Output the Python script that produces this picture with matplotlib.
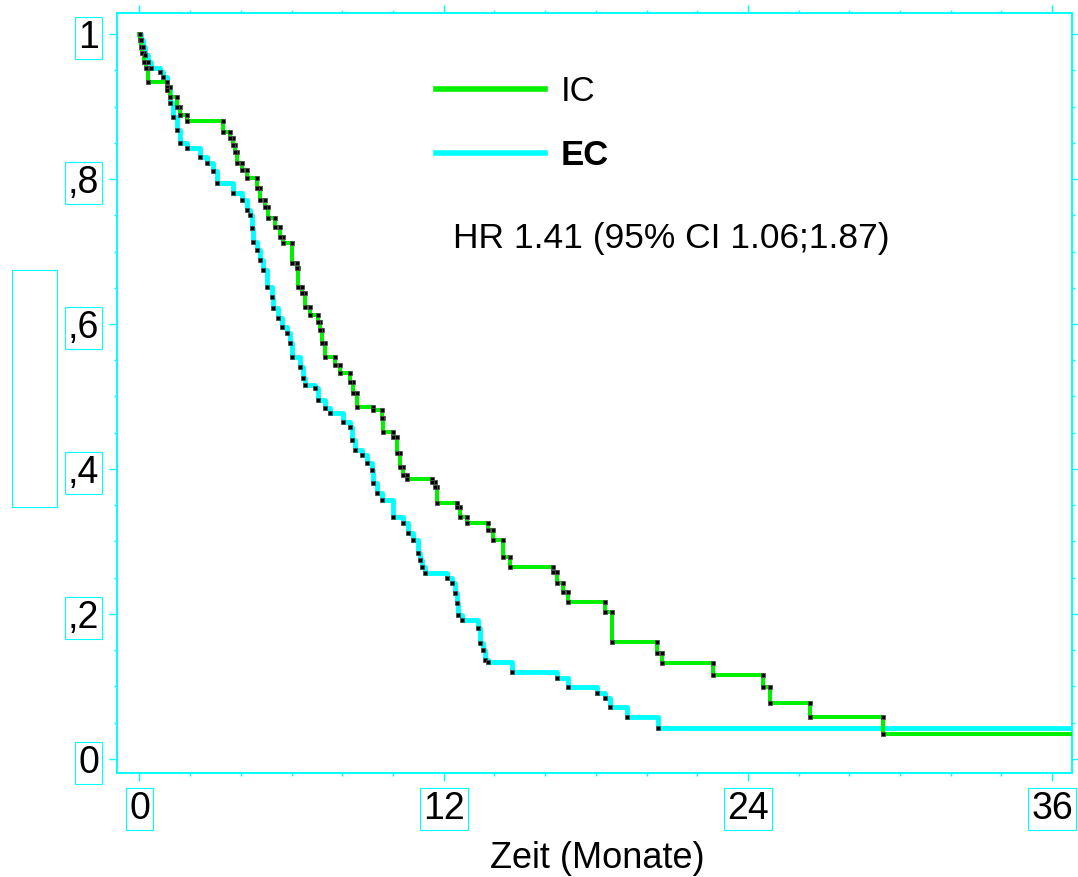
import numpy as np
import matplotlib
matplotlib.use('Agg')
import matplotlib.pyplot as plt
from matplotlib.lines import Line2D
from matplotlib.patches import Rectangle

plt.rcParams['font.family'] = ['Liberation Sans', 'DejaVu Sans']

# Kaplan-Meier steps (months, survival after the step)
ic_t = [0.02, 0.06, 0.10, 0.18, 0.26, 0.34, 1.07, 1.20, 1.47, 1.60, 1.86, 3.31, 3.57, 3.69, 3.77,
        3.83, 4.03, 4.23, 4.62, 4.75, 4.95, 5.07, 5.35, 5.54, 5.66, 6.00, 6.20, 6.25, 6.40, 6.53,
        6.73, 7.04, 7.12, 7.19, 7.32, 7.71, 7.91, 8.30, 8.42, 8.57, 9.21, 9.55, 9.61, 10.00, 10.15,
        10.28, 10.39, 10.54, 11.53, 11.66, 11.72, 12.51, 12.64, 12.91, 13.75, 13.94, 14.34, 14.62,
        16.31, 16.46, 16.71, 16.90, 18.36, 18.63, 20.40, 20.60, 22.62, 24.60, 24.87, 26.45, 29.33]
ic_s = [0.992, 0.982, 0.974, 0.961, 0.953, 0.934, 0.927, 0.913, 0.899, 0.888, 0.880, 0.865, 0.857,
        0.847, 0.837, 0.822, 0.812, 0.801, 0.788, 0.771, 0.761, 0.746, 0.734, 0.720, 0.712, 0.684,
        0.677, 0.651, 0.643, 0.623, 0.612, 0.603, 0.592, 0.574, 0.554, 0.543, 0.532, 0.520, 0.505,
        0.486, 0.481, 0.470, 0.451, 0.444, 0.422, 0.403, 0.392, 0.386, 0.382, 0.375, 0.353, 0.348,
        0.334, 0.326, 0.316, 0.302, 0.279, 0.265, 0.258, 0.243, 0.230, 0.217, 0.203, 0.161, 0.146,
        0.132, 0.116, 0.099, 0.077, 0.058, 0.034]

ec_t = [0.06, 0.14, 0.22, 0.34, 0.45, 0.81, 0.93, 1.07, 1.20, 1.32, 1.47, 1.60, 1.86, 2.39, 2.65,
        2.90, 3.05, 3.69, 4.03, 4.23, 4.36, 4.43, 4.48, 4.62, 4.75, 4.87, 5.02, 5.21, 5.27, 5.46,
        5.61, 5.81, 5.94, 6.00, 6.33, 6.45, 6.53, 6.92, 7.04, 7.32, 7.51, 8.03, 8.30, 8.37, 8.50,
        8.77, 8.96, 9.16, 9.21, 9.36, 9.55, 10.00, 10.39, 10.59, 10.79, 10.99, 11.07, 11.13, 11.26,
        12.12, 12.32, 12.45, 12.51, 12.56, 12.71, 13.35, 13.43, 13.55, 13.63, 13.75, 14.68, 16.46,
        16.90, 18.04, 18.36, 18.56, 19.22, 20.45]
ec_s = [0.992, 0.982, 0.971, 0.961, 0.953, 0.948, 0.941, 0.923, 0.905, 0.886, 0.868, 0.850, 0.843,
        0.830, 0.822, 0.811, 0.794, 0.781, 0.771, 0.757, 0.750, 0.732, 0.713, 0.702, 0.688, 0.674,
        0.651, 0.637, 0.622, 0.608, 0.596, 0.588, 0.574, 0.554, 0.541, 0.526, 0.516, 0.512, 0.495,
        0.484, 0.477, 0.465, 0.458, 0.440, 0.426, 0.419, 0.408, 0.399, 0.381, 0.367, 0.357, 0.334,
        0.326, 0.312, 0.302, 0.284, 0.274, 0.265, 0.257, 0.250, 0.243, 0.229, 0.215, 0.199, 0.192,
        0.181, 0.160, 0.150, 0.137, 0.134, 0.120, 0.112, 0.099, 0.091, 0.084, 0.072, 0.058, 0.043]

t_end = 36.7
x_ticks = [0, 12, 24, 36]
y_ticks = [0, 0.2, 0.4, 0.6, 0.8, 1.0]
y_labels = ['0', ',2', ',4', ',6', ',8', '1']
hr_text = 'HR 1.41 (95% CI 1.06;1.87)'

green = '#00f000'
cyan = '#00ffff'

fig = plt.figure(figsize=(10.78, 8.77), dpi=100)
ax = fig.add_axes([0.1085, 0.1186, 0.8859, 0.8666])


def km_curve(t, s):
    tt = np.concatenate([[0], t, [t_end]])
    ss = np.concatenate([[1.0], s, [s[-1]]])
    return tt, ss


tt, ss = km_curve(ec_t, ec_s)
ax.step(tt, ss, where='post', color=cyan, lw=3.5, zorder=2)
tt, ss = km_curve(ic_t, ic_s)
ax.step(tt, ss, where='post', color=green, lw=2.9, zorder=3)

# censor / event marks
mk = dict(marker='s', ms=3.2, mfc='black', mec='#505050', mew=0.6, ls='none', zorder=4)
ic_prev = np.concatenate([[1.0], ic_s[:-1]])
ax.plot(ic_t, ic_prev, **mk)
ax.plot(ic_t, ic_s, **mk)
ax.plot(ec_t, ec_s, **mk)

ax.set_xlim(-0.888, 36.78)
ax.set_ylim(-0.0193, 1.029)

ax.set_xticks(x_ticks)
ax.set_xticks(np.arange(0, 37, 2), minor=True)
ax.set_yticks(y_ticks)
ax.set_yticks(np.arange(0, 1.01, 0.05), minor=True)
ax.set_yticklabels(y_labels)

for sp in ax.spines.values():
    sp.set_color(cyan)
    sp.set_linewidth(1.4)

ax.tick_params(which='both', direction='out', color=cyan, width=1.0,
               top=True, right=True, labelsize=27, pad=7)
ax.tick_params(which='major', length=6)
ax.tick_params(which='minor', length=2.5)

box = dict(boxstyle='square,pad=0.08', fc='none', ec=cyan, lw=0.8)
for lab in ax.get_xticklabels() + ax.get_yticklabels():
    lab.set_bbox(box)

ax.set_xlabel('Zeit (Monate)', fontsize=26)
ax.xaxis.set_label_coords(0.503, -0.089)

# empty y-label box
fig.patches.append(Rectangle((0.0114, 0.4222), 0.0417, 0.27, transform=fig.transFigure,
                             fill=False, ec=cyan, lw=0.8))

handles = [Line2D([], [], color=green, lw=4), Line2D([], [], color=cyan, lw=4)]
leg = ax.legend(handles, ['IC', 'EC'], loc='upper left', bbox_to_anchor=(0.4045, 0.9145),
                bbox_transform=fig.transFigure, frameon=False, fontsize=25,
                handlelength=3.14, handletextpad=0.45, labelspacing=0.9,
                borderpad=0, borderaxespad=0)
leg.get_texts()[1].set_fontweight('bold')

fig.text(0.4202, 0.7169, hr_text, fontsize=25.5, va='baseline', ha='left')

fig.savefig('out.png', dpi=100, facecolor='white')
